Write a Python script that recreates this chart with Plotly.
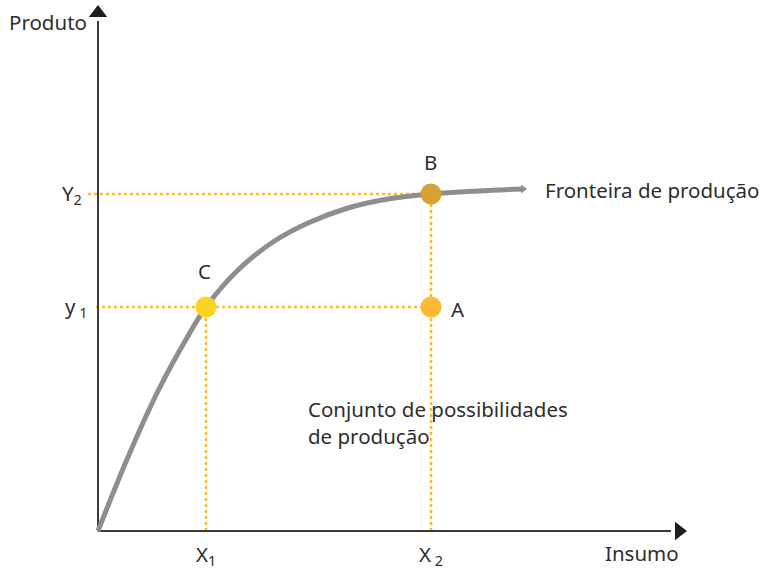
import plotly.graph_objects as go

# fronteira de produção (insumo x produto), origem no canto dos eixos
curve_x = [0, 30, 60, 90, 108, 140, 175, 210, 250, 290, 333, 380, 425]
curve_y = [0, 74, 140, 195, 224, 261, 289, 308, 323, 332, 337, 340, 342]

x1, x2 = 108, 333
y1, y2 = 224, 337
point_names = ["C", "A", "B"]
point_x = [x1, x2, x2]
point_y = [y1, y1, y2]
point_colors = ["#fdd321", "#fbb934", "#d6a236"]

x_end, y_end = 581, 518

FONT = "Noto Sans"
TXT = "#2e2e2e"
DOT = "#fbb934"

fig = go.Figure()

# linhas pontilhadas de referência
for xs, ys in [([-10, x2], [y2, y2]), ([-2, x2], [y1, y1]),
               ([x1, x1], [0, y1]), ([x2, x2], [0, y2])]:
    fig.add_trace(go.Scatter(x=xs, y=ys, mode="lines", hoverinfo="skip",
                             line=dict(color=DOT, width=2.5, dash="dot")))

# eixos
fig.add_trace(go.Scatter(x=[0, 0, None, 0, x_end - 8], y=[y_end - 8, 0, None, 0, 0],
                         mode="lines", line=dict(color="#3a3a3a", width=2),
                         hoverinfo="skip"))
fig.add_trace(go.Scatter(x=[0, x_end], y=[y_end, 0], mode="markers", hoverinfo="skip",
                         marker=dict(symbol=["triangle-up", "triangle-right"], size=16,
                                     color="#1e1e1e")))

# fronteira
fig.add_trace(go.Scatter(x=curve_x, y=curve_y, mode="lines", hoverinfo="skip",
                         line=dict(color="#8e8e8e", width=5, shape="spline", smoothing=1)))
fig.add_trace(go.Scatter(x=curve_x[-1:], y=curve_y[-1:], mode="markers", hoverinfo="skip",
                         marker=dict(symbol="triangle-right", size=8, color="#8e8e8e")))

# pontos
fig.add_trace(go.Scatter(x=point_x, y=point_y, mode="markers", hoverinfo="skip",
                         marker=dict(size=21, color=point_colors)))

ann = [
    dict(x=x1 - 2, y=y1 + 20, text="C", xanchor="center", yanchor="bottom"),
    dict(x=x2 - 1, y=y2 + 16, text="B", xanchor="center", yanchor="bottom"),
    dict(x=x2 + 18, y=y1 - 2, text="A", xanchor="left", yanchor="middle"),
    dict(x=445, y=y2 + 4, text="Fronteira de produção", xanchor="left", yanchor="middle"),
    dict(x=208, y=109, text="Conjunto de possibilidades<br>de produção",
         xanchor="left", yanchor="middle", align="left"),
    dict(x=-14, y=y2, text="Y<sub>2</sub>", xanchor="right", yanchor="middle"),
    dict(x=-9, y=y1, text="y<sub> 1</sub>", xanchor="right", yanchor="middle"),
    dict(x=x1, y=-24, text="X<sub>1</sub>", xanchor="center", yanchor="middle"),
    dict(x=x2, y=-24, text="X<sub> 2</sub>", xanchor="center", yanchor="middle"),
    dict(x=-9, y=509, text="Produto", xanchor="right", yanchor="middle"),
    dict(x=583, y=-22, text="Insumo", xanchor="right", yanchor="middle"),
]
for a in ann:
    fig.add_annotation(showarrow=False, font=dict(family=FONT, size=20.5, color=TXT), **a)

fig.update_layout(
    width=760, height=571,
    margin=dict(l=0, r=0, t=0, b=0),
    paper_bgcolor="white", plot_bgcolor="white",
    showlegend=False,
    xaxis=dict(range=[-98, 662], visible=False, fixedrange=True),
    yaxis=dict(range=[-40, 531], visible=False, fixedrange=True),
)

fig.write_html("out.html", config={"displayModeBar": False},
               post_script="document.body.style.margin='0';")
